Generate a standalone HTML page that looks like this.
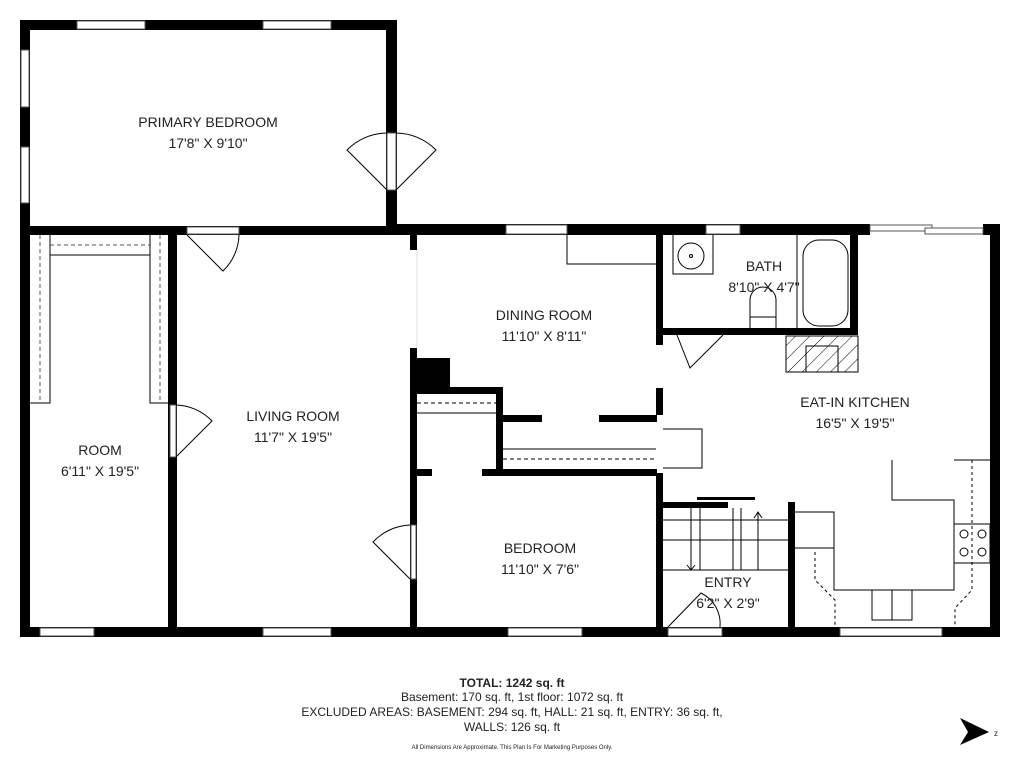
<!DOCTYPE html>
<html><head><meta charset="utf-8"><style>
html,body{margin:0;padding:0;background:#fff;}
svg{display:block;}
text{font-family:"Liberation Sans",sans-serif;fill:#222;}
</style></head><body>
<svg width="1024" height="768" viewBox="0 0 1024 768" xmlns="http://www.w3.org/2000/svg">
<g fill="#000">
<rect x="20" y="20" width="377" height="10"/>
<rect x="20" y="20" width="10" height="215"/>
<rect x="386" y="20" width="11" height="210"/>
<rect x="20" y="226" width="377" height="9"/>
<rect x="386" y="224" width="484" height="11"/>
<rect x="983" y="224" width="17" height="11"/>
<rect x="990" y="224" width="10" height="413"/>
<rect x="20" y="627" width="980" height="10"/>
<rect x="20" y="226" width="10" height="411"/>
<rect x="168" y="235" width="9" height="392"/>
<rect x="410" y="235" width="7" height="15"/>
<rect x="410" y="348" width="7" height="279"/>
<rect x="410" y="358" width="40" height="30"/>
<rect x="410" y="387" width="93" height="7"/>
<rect x="496" y="387" width="7" height="85"/>
<rect x="496" y="415" width="46" height="7"/>
<rect x="599" y="415" width="58" height="7"/>
<rect x="410" y="469" width="22" height="7"/>
<rect x="482" y="469" width="175" height="7"/>
<rect x="656" y="224" width="7" height="121"/>
<rect x="656" y="388" width="7" height="27"/>
<rect x="656" y="473" width="7" height="164"/>
<rect x="663" y="328" width="195" height="7"/>
<rect x="850" y="224" width="8" height="111"/>
<rect x="663" y="502" width="65" height="6"/>
<rect x="788" y="502" width="7" height="125"/>
<rect x="697" y="497" width="58" height="3"/>
</g>
<g fill="#fff" stroke="#555" stroke-width="1">
<rect x="77" y="21" width="68" height="8"/>
<rect x="263" y="21" width="68" height="8"/>
<rect x="21" y="50" width="8" height="57"/>
<rect x="21" y="147" width="8" height="56"/>
<rect x="387" y="133" width="9" height="57"/>
<rect x="187" y="227" width="52" height="7"/>
<rect x="506" y="225" width="61" height="9"/>
<rect x="706" y="225" width="34" height="9"/>
<rect x="870" y="225" width="62" height="6"/>
<rect x="925" y="228" width="58" height="6"/>
<rect x="170" y="405" width="6" height="52"/>
<rect x="411" y="525" width="5" height="54"/>
<rect x="40" y="628" width="54" height="8"/>
<rect x="263" y="628" width="68" height="8"/>
<rect x="508" y="628" width="74" height="8"/>
<rect x="668" y="628" width="54" height="8"/>
<rect x="840" y="628" width="102" height="8"/>
</g>
<g fill="none" stroke="#000" stroke-width="1">
<path d="M387 190 L347 150 A57 57 0 0 1 387 133"/>
<path d="M396 190 L436 150 A57 57 0 0 0 396 133"/>
<path d="M187 235 L223 271 A52 52 0 0 0 239 235"/>
<path d="M176 457 L212 421 A52 52 0 0 0 176 405"/>
<path d="M410 579 L373 542 A54 54 0 0 1 410 525"/>
<path d="M677 335 L690 368 L723 335"/>
<path d="M668 627 L701 593 A34 34 0 0 1 720 627"/>
<path d="M50 235 V403 H30"/><path d="M150 235 V403 H168"/>
<path d="M50 255 H150"/>
<path d="M50 245 H150 M40 235 V403 M160 235 V403" stroke-dasharray="4 3" stroke="#555"/>
<path d="M567 234 V264 H657"/>
<path d="M417 413 H496"/><path d="M417 403 H496" stroke-dasharray="4 3"/>
<path d="M503 449 H656"/><path d="M503 459 H656" stroke-dasharray="4 3"/>
<path d="M417 250 V348" stroke="#ddd"/>
<path d="M673 235 V274 H713 V235"/>
<circle cx="691" cy="256" r="13"/><circle cx="691" cy="256" r="1.5"/>
<path d="M797 235 V328"/>
<rect x="803" y="240" width="45" height="86" rx="16"/>
<path d="M750 328 V300 A13 13 0 0 1 776 300 V328 M750 317 H776"/>
<rect x="786" y="336" width="72" height="36" fill="url(#h)"/>
<rect x="806" y="346" width="32" height="26"/>
<path d="M663 429 H702 V468 H663"/>
<path d="M892 460 V500 H954 V590 H834 V535"/>
<path d="M795 512 H834 V548 H795"/>
<path d="M954 460 H990"/>
<rect x="954" y="524" width="36" height="39"/>
<circle cx="964" cy="534" r="4"/><circle cx="982" cy="534" r="4"/>
<circle cx="964" cy="552" r="4"/><circle cx="982" cy="552" r="4"/>
<rect x="872" y="590" width="40" height="30"/>
<path d="M892 590 V620"/>
<path d="M815 552 V580 L835 600 V627 M972 460 V590 L955 608 V627" stroke-dasharray="3 3"/>
<path d="M663 540 H788 M663 570 H788 M663 520 H788 M700 508 V570 M733 508 V570 M741 508 V570 M758 512 V570 M691 508 V570"/>
<path d="M754 518 L758 512 L762 518 M687 565 L691 570 L695 565"/>
</g>
<defs><pattern id="h" width="10" height="10" patternUnits="userSpaceOnUse" patternTransform="rotate(45)"><line x1="0" y1="0" x2="0" y2="10" stroke="#000" stroke-width="1"/></pattern></defs>
<g font-size="14" text-anchor="middle">
<text x="208" y="127">PRIMARY BEDROOM</text><text x="208" y="148">17'8" X 9'10"</text>
<text x="100" y="455">ROOM</text><text x="100" y="476">6'11" X 19'5"</text>
<text x="293" y="421">LIVING ROOM</text><text x="293" y="442">11'7" X 19'5"</text>
<text x="544" y="320">DINING ROOM</text><text x="544" y="341">11'10" X 8'11"</text>
<text x="540" y="553">BEDROOM</text><text x="540" y="574">11'10" X 7'6"</text>
<text x="764" y="271">BATH</text><text x="764" y="292">8'10" X 4'7"</text>
<text x="855" y="407">EAT-IN KITCHEN</text><text x="855" y="428">16'5" X 19'5"</text>
<text x="728" y="587">ENTRY</text><text x="728" y="608">6'2" X 2'9"</text>
</g>
<g font-size="12" text-anchor="middle">
<text x="512" y="687" font-weight="bold">TOTAL: 1242 sq. ft</text>
<text x="512" y="701">Basement: 170 sq. ft, 1st floor: 1072 sq. ft</text>
<text x="512" y="716">EXCLUDED AREAS: BASEMENT: 294 sq. ft, HALL: 21 sq. ft, ENTRY: 36 sq. ft,</text>
<text x="512" y="731">WALLS: 126 sq. ft</text>
<text x="512" y="749" font-size="6" fill="#888">All Dimensions Are Approximate. This Plan Is For Marketing Purposes Only.</text>
</g>
<path d="M960 718 L989 732 L960 745 L968 732 Z" fill="#000"/>
<text x="994" y="736" font-size="8">z</text>
</svg>
</body></html>
